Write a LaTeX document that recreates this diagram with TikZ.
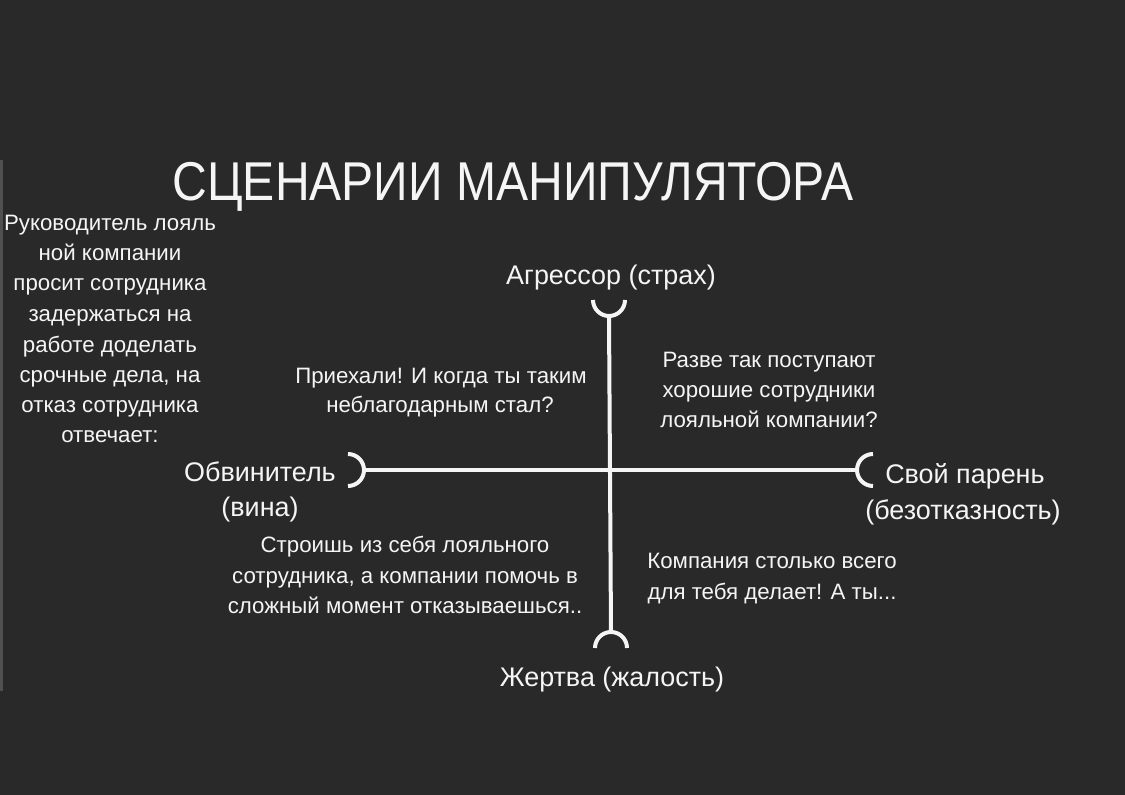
\documentclass[tikz,border=0pt]{standalone}
\usepackage{fontspec}
\usepackage{graphicx}
\setmainfont{Liberation Sans}
\definecolor{bg}{RGB}{41,41,41}
\definecolor{fg}{RGB}{245,245,245}
\definecolor{edge}{RGB}{80,80,80}
\tikzset{
  txt/.style={text=fg, anchor=base, inner sep=0pt, font=\fontsize{16.7}{20}\selectfont},
  lbl/.style={text=fg, anchor=base, inner sep=0pt, font=\fontsize{20.2}{24}\selectfont},
  axis/.style={draw=fg, line width=3pt},
}
\begin{document}
\begin{tikzpicture}[x=0.75pt,y=-0.75pt]
\fill[bg] (0,0) rectangle (1125,795);
\useasboundingbox (0,0) rectangle (1125,795);
\draw[edge, line width=2.2pt] (1.5,160) -- (1.5,691);
% title
\node[text=fg, anchor=base, inner sep=0pt, font=\fontsize{41}{48}\selectfont] (title) at (513,200) {\scalebox{0.88}[1]{СЦЕНАРИИ МАНИПУЛЯТОРА}};
% left block
\node[txt] (l1) at (110,231) {Руководитель лояль};
\node[txt] (l2) at (110,261) {ной компании};
\node[txt] (l3) at (110,291) {просит сотрудника};
\node[txt] (l4) at (110,321) {задержаться на};
\node[txt] (l5) at (110,352) {работе доделать};
\node[txt] (l6) at (110,382) {срочные дела, на};
\node[txt] (l7) at (110,412) {отказ сотрудника};
\node[txt] (l8) at (110,442) {отвечает:};
% axes
\coordinate (T) at (609,316);
\coordinate (B) at (611,632);
\coordinate (L) at (364,470);
\coordinate (R) at (857,470);
\draw[axis] (T) -- (B);
\draw[axis] (L) -- (R);
\draw[axis] (T) ++(-16,-16) arc[start angle=180,end angle=0,radius=16];
\draw[axis] (B) ++(-16,16) arc[start angle=180,end angle=360,radius=16];
\draw[axis] (L) ++(-16,-16) arc[start angle=-90,end angle=90,radius=16];
\draw[axis] (R) ++(16,16) arc[start angle=90,end angle=270,radius=16];
% axis labels
\node[lbl] (agr) at (611,284) {Агрессор (страх)};
\node[lbl, anchor=base east] (obv) at (336,481) {Обвинитель};
\node[lbl] (vina) at (260,516) {(вина)};
\node[lbl, anchor=base west] (svoi) at (885,483) {Свой парень};
\node[lbl] (bez) at (963,519) {(безотказность)};
\node[lbl] (zh) at (612,686) {Жертва (жалость)};
% quadrant texts
\node[txt] (q1a) at (441,383) {Приехали! И когда ты таким};
\node[txt] (q1b) at (440,412) {неблагодарным стал?};
\node[txt] (q2a) at (769,367) {Разве так поступают};
\node[txt] (q2b) at (769,397) {хорошие сотрудники};
\node[txt] (q2c) at (769,427) {лояльной компании?};
\node[txt] (q3a) at (405,552) {Строишь из себя лояльного};
\node[txt] (q3b) at (405,583) {сотрудника, а компании помочь в};
\node[txt] (q3c) at (405,613) {сложный момент отказываешься..};
\node[txt] (q4a) at (772,568) {Компания столько всего};
\node[txt] (q4b) at (772,599) {для тебя делает! А ты...};
\end{tikzpicture}
\end{document}
